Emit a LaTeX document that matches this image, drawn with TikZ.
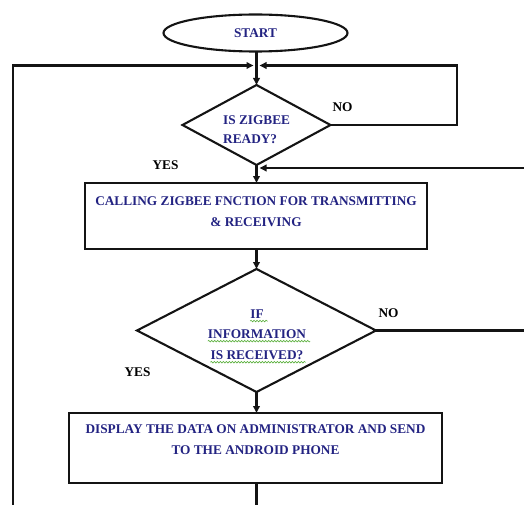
\documentclass[tikz,border=0pt]{standalone}
\usepackage{fontspec}
\setmainfont{Liberation Serif}
\usetikzlibrary{shapes.geometric,arrows.meta,decorations.pathmorphing}
\definecolor{navy}{RGB}{35,35,130}
\definecolor{squig}{RGB}{90,175,60}
\definecolor{ink}{RGB}{20,20,20}
\begin{document}
\begin{tikzpicture}[x=1pt,y=-1pt,
  line/.style={line width=2.1pt,draw=ink},
  arr/.style={line,-{Triangle[length=7pt,width=6.5pt]}},
  box/.style={draw=ink,line width=2.4pt,rectangle,inner sep=0pt,outer sep=0pt},
  dia/.style={draw=ink,line width=2.1pt,diamond,inner sep=0pt,outer sep=0pt},
  txt/.style={font=\bfseries\fontsize{13.3}{21}\selectfont,text=navy,inner sep=0pt},
  lbl/.style={font=\bfseries\fontsize{13.3}{16}\selectfont,text=black,inner sep=0pt},
  wavy/.style={draw=squig,line width=0.6pt,decorate,decoration={snake,amplitude=0.8pt,segment length=3pt}}
]
\useasboundingbox (0,0) rectangle (524,505);
% nodes
\node[draw=ink,line width=2.1pt,ellipse,minimum width=184pt,minimum height=37pt,inner sep=0pt,outer sep=0pt,txt] (start) at (255.5,33) {START};
\node[dia,minimum width=148pt,minimum height=80pt] (d1) at (256.5,125) {};
\node[txt,align=left,anchor=west,font=\bfseries\fontsize{13.3}{19}\selectfont] (d1t) at (223,129.5) {IS ZIGBEE\\READY?};
\node[box,minimum width=342pt,minimum height=66pt] (b1) at (256,216) {};
\node[txt,align=center] (b1t) at (256,211.5) {CALLING ZIGBEE FNCTION FOR TRANSMITTING\\\& RECEIVING};
\node[dia,minimum width=239pt,minimum height=123pt] (d2) at (256.5,330.5) {};
\node[txt] (d2a) at (257,314) {IF};
\node[txt] (d2b) at (257,334) {INFORMATION};
\node[txt] (d2c) at (257,355) {IS RECEIVED?};
\node[box,minimum width=373pt,minimum height=70pt] (b2) at (255.5,448) {};
\node[txt,align=center] (b2t) at (255.5,440) {DISPLAY THE DATA ON ADMINISTRATOR AND SEND\\TO THE ANDROID PHONE};
% labels
\node[lbl] (no1) at (342.5,107) {NO};
\node[lbl] (yes1) at (165.5,165) {YES};
\node[lbl] (no2) at (388.5,313) {NO};
\node[lbl] (yes2) at (137.5,372) {YES};
% coordinates
\coordinate (j1) at (256.5,65.5);
\coordinate (lt) at (13,65.5);
\coordinate (lb) at (13,505);
\coordinate (r1) at (457,125);
\coordinate (r1t) at (457,65.5);
\coordinate (j2) at (256.5,168);
\coordinate (re2) at (524,168);
\coordinate (re3) at (524,330.5);
\coordinate (bot) at (256.5,505);
% connectors
\draw[arr] (start.south -| d1.north) -- (d1.north);
\draw[arr,shorten >=3pt] (lb) -- (lt) -- (j1);
\draw[arr,shorten >=3pt] (d1.east) -- (r1) -- (r1t) -- (j1);
\draw[arr] (d1.south) -- (d1.south |- b1.north);
\draw[arr,shorten >=3pt] (re2) -- (j2);
\draw[arr] (b1.south -| d2.north) -- (d2.north);
\draw[line] (d2.east) -- (re3);
\draw[arr] (d2.south) -- (d2.south |- b2.north);
\draw[line] (b2.south -| bot) -- (bot);
% spell-check squiggles
\draw[wavy] ([yshift=-2.5pt]d2a.south west) -- ([xshift=4pt,yshift=-2.5pt]d2a.south east);
\draw[wavy] ([yshift=-2.5pt]d2b.south west) -- ([xshift=4pt,yshift=-2.5pt]d2b.south east);
\draw[wavy] ([yshift=-2.5pt]d2c.south west) -- ([xshift=2pt,yshift=-2.5pt]d2c.south east);
\end{tikzpicture}
\end{document}
